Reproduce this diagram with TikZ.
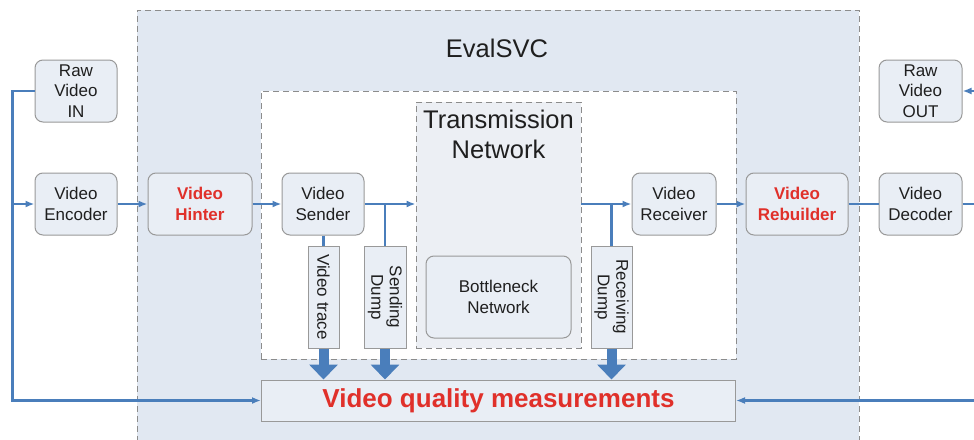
\documentclass[tikz,border=0pt]{standalone}
\usepackage{fontspec}
\setmainfont{Liberation Sans}
\usetikzlibrary{arrows.meta,calc}
\definecolor{bgblue}{HTML}{E1E8F2}
\definecolor{boxfill}{HTML}{E9EEF5}
\definecolor{transfill}{HTML}{ECEFF4}
\definecolor{boxgray}{HTML}{999999}
\definecolor{dashgray}{HTML}{8C8C8C}
\definecolor{flowblue}{HTML}{4A7EBB}
\definecolor{redtxt}{HTML}{E0302A}
\begin{document}
\begin{tikzpicture}[x=1pt,y=-1pt,
  boxstyle/.style={draw=boxgray, fill=boxfill, line width=1pt, rounded corners=8pt,
    align=center, inner sep=0pt, font=\fontsize{17}{20.7}\selectfont, text=black!88},
  redbold/.style={text=redtxt, font=\fontsize{17}{20.7}\selectfont\bfseries},
  dumpbox/.style={draw=boxgray, fill=boxfill, line width=1pt, rotate=-90,
    align=center, inner sep=0pt, font=\fontsize{17}{18.5}\selectfont, text=black!88},
  dashbox/.style={draw=dashgray, line width=0.9pt, dash pattern=on 6pt off 4pt, inner sep=0pt},
  flow/.style={draw=flowblue, line width=2.2pt},
  arr/.style={-{Latex[length=9pt,width=7pt]}},
  fat/.style={draw=flowblue, line width=10pt, -{Triangle[length=15pt,width=28pt]}}
]
\useasboundingbox (0,0) rectangle (974,439);
\fill[white] (0,0) rectangle (974,439);

% containers
\node[dashbox, fill=bgblue, minimum width=722pt, minimum height=440pt] (eval) at (498,230) {};
\node[font=\fontsize{25.5}{28}\selectfont, text=black!88] (evaltxt) at (497,48) {EvalSVC};
\node[dashbox, fill=white, minimum width=475pt, minimum height=268pt] (inner) at (498.5,225) {};
\node[dashbox, fill=transfill, minimum width=165pt, minimum height=246pt] (trans) at (498.5,225) {};
\node[align=center, font=\fontsize{25.5}{30}\selectfont, text=black!88] (transtxt) at (498.5,134.5) {Transmission\\Network};
\node[boxstyle, minimum width=145pt, minimum height=82pt] (bott) at (498.5,297) {Bottleneck\\Network};

% boxes
\node[boxstyle, minimum width=82pt, minimum height=62pt] (rawin) at (76,91) {Raw\\Video\\IN};
\node[boxstyle, minimum width=82pt, minimum height=62pt] (enc) at (76,204) {Video\\Encoder};
\node[boxstyle, redbold, minimum width=104pt, minimum height=62pt] (hint) at (200,204) {Video\\Hinter};
\node[boxstyle, minimum width=82pt, minimum height=62pt] (send) at (323,204) {Video\\Sender};
\node[boxstyle, minimum width=84pt, minimum height=62pt] (recv) at (674,204) {Video\\Receiver};
\node[boxstyle, redbold, minimum width=102pt, minimum height=62pt] (rebu) at (797,204) {Video\\Rebuilder};
\node[boxstyle, minimum width=83pt, minimum height=62pt] (dec) at (920.5,204) {Video\\Decoder};
\node[boxstyle, minimum width=83pt, minimum height=62pt] (rawout) at (920.5,91) {Raw\\Video\\OUT};

% dump boxes (rotated: west = top, east = bottom)
\node[dumpbox, minimum width=102pt, minimum height=31pt] (vtrace) at (323.5,297) {Video trace};
\node[dumpbox, minimum width=102pt, minimum height=42pt] (sdump) at (385,297) {Sending\\Dump};
\node[dumpbox, minimum width=102pt, minimum height=41pt] (rdump) at (611.5,297) {Receiving\\Dump};

% measurements
\node[draw=boxgray, fill=boxfill, line width=1pt, minimum width=474pt, minimum height=41pt,
  font=\fontsize{26}{28}\selectfont\bfseries, text=redtxt] (vqm) at (498.5,400.5) {Video quality measurements};

% outside coordinates
\coordinate (rtop) at (980,91);
\coordinate (rmid) at (980,204);
\coordinate (rbot) at (980,400.5);

% connectors
\draw[flow, arr] (rawin.west) -- ++(-22,0) |- (vqm.west);
\draw[flow, arr] (rawin.west) -- ++(-22,0) |- (enc.west);
\draw[flow, arr] (enc.east) -- (hint.west);
\draw[flow, arr] (hint.east) -- (send.west);
\draw[flow, arr] (send.east) -- (send.east -| trans.west);
\draw[flow] (send.east -| sdump.west) -- (sdump.west);
\draw[flow] (vtrace.west |- send.south) -- (vtrace.west);
\draw[flow, arr] (trans.east |- recv.west) -- (recv.west);
\draw[flow] (rdump.west |- recv.west) -- (rdump.west);
\draw[flow, arr] (recv.east) -- (rebu.west);
\draw[flow] (rebu.east) -- (dec.west);
\draw[flow] (dec.east) -- (rmid);
\draw[flow, arr] (rtop) -- (rawout.east);
\draw[flow, arr] (rbot) -- (vqm.east);

% fat arrows
\draw[fat] (vtrace.east) -- (vtrace.east |- vqm.north);
\draw[fat] (sdump.east) -- (sdump.east |- vqm.north);
\draw[fat] (rdump.east) -- (rdump.east |- vqm.north);
\end{tikzpicture}
\end{document}
